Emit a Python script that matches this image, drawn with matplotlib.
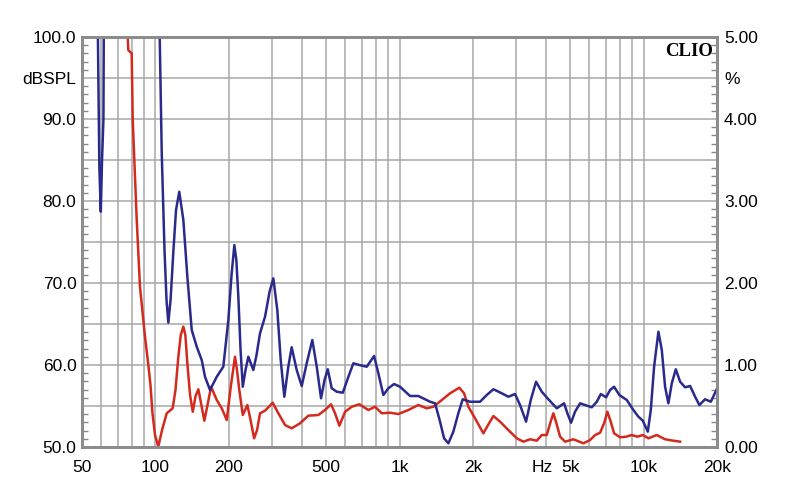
import matplotlib
matplotlib.use('Agg')
from matplotlib import pyplot as plt
from matplotlib.ticker import FixedLocator, NullFormatter

# blue curve: frequency (Hz) and distortion (%)
blue_f = [57.6, 58.9, 59.7, 60.4, 61.2, 61.6, 102.7, 106.1, 108.9, 111.0, 112.9, 115.3,
          118.3, 121.4, 125.2, 130.1, 135.1, 140.8, 147.6, 154.7, 159.6, 167.3, 178.3,
          189.7, 198.9, 205.0, 210.5, 214.5, 218.6, 223.2, 227.9, 233.9, 240.2, 251.8,
          259.5, 268.2, 281.2, 293.3, 304.1, 315.7, 326.0, 337.3, 350.2, 361.6, 379.1,
          397.5, 416.7, 439.3, 458.0, 477.0, 493.0, 508.1, 527.6, 553.1, 585.6, 617.5,
          647.1, 684.7, 734.3, 786.6, 819.2, 858.7, 900.2, 950.0, 1005, 1105, 1194, 1273,
          1334, 1399, 1466, 1523, 1586, 1662, 1742, 1816, 1946, 2139, 2278, 2425, 2625,
          2793, 2975, 3119, 3301, 3450, 3627, 3828, 4075, 4411, 4725, 4875, 5047, 5239,
          5495, 5762, 6136, 6434, 6682, 7025, 7293, 7573, 7962, 8538, 9087, 9523, 9931,
          10411, 10709, 11048, 11506, 11880, 12254, 12644, 13055, 13558, 14119, 14802,
          15517, 16267, 16938, 17876, 18864, 19955]
blue_pct = [6.0, 3.41, 2.87, 3.50, 3.99, 6.0, 6.0, 3.585, 2.40, 1.79, 1.516, 1.79,
            2.366, 2.89, 3.113, 2.768, 2.077, 1.427, 1.223, 1.061, 0.857, 0.695, 0.857,
            0.979, 1.549, 2.098, 2.463, 2.28, 1.833, 1.183, 0.735, 0.939, 1.101, 0.939,
            1.122, 1.387, 1.589, 1.89, 2.057, 1.671, 1.061, 0.613, 0.979, 1.216, 0.939,
            0.744, 1.021, 1.305, 0.979, 0.594, 0.817, 0.948, 0.716, 0.674, 0.662, 0.857,
            1.021, 1.0, 0.979, 1.11, 0.899, 0.634, 0.716, 0.768, 0.735, 0.622, 0.622, 0.582,
            0.552, 0.533, 0.309, 0.106, 0.045, 0.187, 0.411, 0.582, 0.552, 0.552, 0.634,
            0.704, 0.655, 0.613, 0.646, 0.512, 0.309, 0.573, 0.796, 0.674, 0.582, 0.472,
            0.533, 0.411, 0.296, 0.43, 0.533, 0.512, 0.484, 0.552, 0.646, 0.606, 0.695,
            0.735, 0.634, 0.573, 0.451, 0.37, 0.321, 0.187, 0.451, 0.979, 1.406, 1.183,
            0.735, 0.533, 0.777, 0.948, 0.796, 0.728, 0.744, 0.613, 0.512, 0.582, 0.552,
            0.704]

# red curve
red_f = [74.3, 77.4, 79.9, 80.7, 81.7, 83.8, 86.4, 90.6, 93.5, 95.4, 97.2, 99.6, 102.7,
         106.4, 111.2, 117.6, 120.8, 124.1, 127.0, 130.1, 132.6, 135.1, 138.6, 142.2,
         146.0, 149.9, 154.2, 158.6, 163.4, 169.0, 178.3, 186.9, 195.9, 203.5, 211.8,
         215.8, 220.6, 227.9, 238.0, 245.3, 253.6, 260.8, 268.2, 281.2, 302.4, 318.8,
         339.6, 361.6, 391.2, 423.1, 464.9, 495.3, 524.1, 544.3, 567.0, 598.5, 637.5,
         684.7, 745.6, 794.2, 845.9, 914.8, 989.4, 1087, 1194, 1293, 1377, 1491, 1612,
         1759, 1839, 1915, 2040, 2206, 2306, 2425, 2583, 2793, 3024, 3218, 3429, 3652,
         3828, 4012, 4160, 4271, 4381, 4550, 4770, 5158, 5670, 6039, 6331, 6637, 6891,
         7109, 7340, 7573, 8014, 8485, 8950, 9433, 9931, 10470, 11331, 12254, 13254, 14119]
red_pct = [6.0, 4.84, 4.80, 3.99, 3.585, 2.77, 1.955, 1.345, 1.0, 0.756, 0.415, 0.146,
           0.004, 0.207, 0.411, 0.472, 0.695, 1.101, 1.366, 1.467, 1.366, 1.021, 0.634,
           0.43, 0.622, 0.704, 0.512, 0.321, 0.512, 0.735, 0.573, 0.472, 0.329, 0.735,
           1.101, 0.939, 0.695, 0.39, 0.512, 0.329, 0.106, 0.207, 0.411, 0.443, 0.54,
           0.411, 0.268, 0.228, 0.289, 0.382, 0.39, 0.451, 0.521, 0.411, 0.26, 0.43,
           0.491, 0.521, 0.451, 0.491, 0.411, 0.418, 0.402, 0.451, 0.512, 0.472, 0.491,
           0.573, 0.655, 0.723, 0.655, 0.491, 0.35, 0.167, 0.268, 0.378, 0.309, 0.207,
           0.106, 0.065, 0.094, 0.077, 0.146, 0.146, 0.305, 0.411, 0.305, 0.126, 0.065,
           0.094, 0.045, 0.085, 0.146, 0.174, 0.289, 0.43, 0.309, 0.167, 0.118, 0.126,
           0.146, 0.126, 0.146, 0.106, 0.146, 0.094, 0.077, 0.065]

x_ticks = [50, 100, 200, 500, 1000, 2000, 5000, 10000, 20000]
x_labels = ['50', '100', '200', '500', '1k', '2k', '5k', '10k', '20k']
grid_f = [50, 60, 70, 80, 90] + [f * m for m in (100, 1000) for f in range(1, 10)] + [10000, 20000]
db_ticks = [100, 95, 90, 85, 80, 75, 70, 65, 60, 55, 50]
db_labels = ['100.0', 'dBSPL', '90.0', '', '80.0', '', '70.0', '', '60.0', '', '50.0']
pct_ticks = [5, 4.5, 4, 3.5, 3, 2.5, 2, 1.5, 1, 0.5, 0]
pct_labels = ['5.00', '%', '4.00', '', '3.00', '', '2.00', '', '1.00', '', '0.00']

plt.rcParams['font.family'] = ['Liberation Sans', 'DejaVu Sans']
fs = 12.5
grid_col = '#a8a8a8'

fig = plt.figure(figsize=(8, 5.04), dpi=100)
ax = fig.add_axes([82 / 800, 57 / 504, 635 / 800, 410 / 504])
ax2 = ax.twinx()

ax.set_xscale('log')
ax.set_xlim(50, 20000)
ax.set_ylim(50, 100)
ax.xaxis.set_major_locator(FixedLocator(x_ticks))
ax.xaxis.set_major_formatter(plt.FixedFormatter(x_labels))
ax.xaxis.set_minor_locator(FixedLocator(grid_f))
ax.xaxis.set_minor_formatter(NullFormatter())
ax.set_yticks(db_ticks)
ax.set_yticklabels(db_labels)
ax.set_yticks(range(50, 101), minor=True)
ax.grid(True, which='major', color=grid_col, linewidth=1.1)
ax.grid(True, which='minor', axis='x', color=grid_col, linewidth=1.1)
ax.tick_params(axis='x', which='both', length=0, pad=9, labelsize=fs)
ax.tick_params(axis='y', which='major', length=0, pad=4, labelsize=fs)
ax.tick_params(axis='y', which='minor', direction='in', length=4, color='#888888', width=1)
ax.annotate('Hz', xy=(3830, 0), xycoords=('data', 'axes fraction'), xytext=(0, -9),
            textcoords='offset points', ha='center', va='top', fontsize=fs)

ax2.set_ylim(0, 5)
ax2.set_yticks(pct_ticks)
ax2.set_yticklabels(pct_labels)
ax2.set_yticks([i / 10 for i in range(51)], minor=True)
ax2.tick_params(axis='y', which='major', length=0, pad=5, labelsize=fs)
ax2.tick_params(axis='y', which='minor', direction='in', length=4, color='#888888', width=1)

ax2.plot(red_f, red_pct, color='#d42a1e', linewidth=1.8, solid_joinstyle='round')
ax2.plot(blue_f, blue_pct, color='#2a2a8c', linewidth=1.8, solid_joinstyle='round')

for a in (ax, ax2):
    for s in a.spines.values():
        s.set_color('#8c8c8c')
        s.set_linewidth(2)

ax2.text(0.993, 0.985, 'CLIO', transform=ax2.transAxes, ha='right', va='top',
         fontsize=13.5, fontweight='bold', family=['Liberation Serif', 'DejaVu Serif'])

fig.savefig('out.png', dpi=100)
